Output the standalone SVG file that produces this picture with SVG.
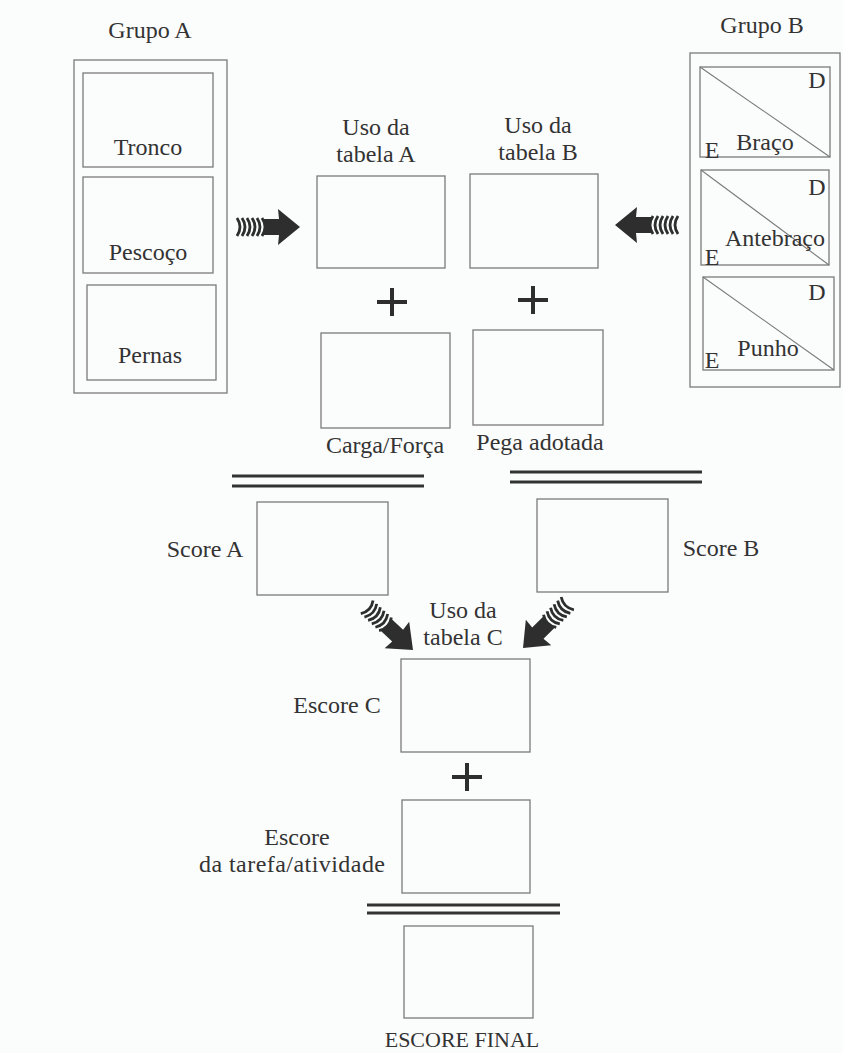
<svg xmlns="http://www.w3.org/2000/svg" xmlns:xlink="http://www.w3.org/1999/xlink" width="843" height="1053" viewBox="0 0 843 1053">
<style>
  text { font-family: 'Liberation Serif', 'DejaVu Serif', serif; }
  .t { font-size: 24px; fill: #333; text-anchor: middle; }
  .box { fill: none; stroke: #7a7a7a; stroke-width: 1.3; }
  .diag { stroke: #7a7a7a; stroke-width: 1.1; }
  .plus { stroke: #2e2e2e; stroke-width: 4; stroke-linecap: butt; }
  .dbl { stroke: #333; stroke-width: 3; }
  .stripe { fill: none; stroke: #2e2e2e; stroke-width: 2.8; }
</style>
<defs>
  <g id="stripedArrow">
    <polygon points="0,0 -22,-18 -21,-8 -36,-8 -36,8 -21,8 -22,18" fill="#2e2e2e"/>
    <path class="stripe" d="M-63,-9 q6,9 0,18"/>
    <path class="stripe" d="M-58,-9 q6,9 0,18"/>
    <path class="stripe" d="M-53,-9 q6,9 0,18"/>
    <path class="stripe" d="M-48,-9 q6,9 0,18"/>
    <path class="stripe" d="M-43,-9 q6,9 0,18"/>
    <path class="stripe" d="M-38,-9 q6,9 0,18"/>
  </g>
</defs>
<rect x="0" y="0" width="843" height="1053" fill="#fbfcfc"/>

<g font-family="Liberation Serif, serif">
<g id="grupo-a">
  <text class="t" x="150" y="38">Grupo A</text>
  <rect class="box" x="74" y="60" width="153" height="333"/>
  <rect class="box" x="83" y="73" width="130" height="94"/>
  <text class="t" x="148" y="155">Tronco</text>
  <rect class="box" x="83" y="177" width="130" height="96"/>
  <text class="t" x="148" y="260">Pescoço</text>
  <rect class="box" x="87" y="285" width="129" height="95"/>
  <text class="t" x="150" y="363">Pernas</text>
</g>

<g id="grupo-b">
  <text class="t" x="762" y="33">Grupo B</text>
  <rect class="box" x="690" y="53" width="150" height="334"/>
  <rect class="box" x="700" y="67" width="130" height="90"/>
  <line class="diag" x1="700" y1="67" x2="830" y2="157"/>
  <text class="t" x="817" y="88">D</text>
  <text class="t" x="712" y="158">E</text>
  <text class="t" x="765" y="150">Braço</text>
  <rect class="box" x="701" y="170" width="128" height="95"/>
  <line class="diag" x1="701" y1="170" x2="829" y2="265"/>
  <text class="t" x="817" y="195">D</text>
  <text class="t" x="712" y="265">E</text>
  <text class="t" x="775" y="246">Antebraço</text>
  <rect class="box" x="703" y="277" width="131" height="93"/>
  <line class="diag" x1="703" y1="277" x2="834" y2="370"/>
  <text class="t" x="817" y="300">D</text>
  <text class="t" x="712" y="368">E</text>
  <text class="t" x="768" y="356">Punho</text>
</g>

<g id="tabela-a">
  <text class="t" x="376" y="135">Uso da</text>
  <text class="t" x="376" y="162">tabela A</text>
  <rect class="box" x="317" y="176" width="128" height="92"/>
</g>
<g id="tabela-b">
  <text class="t" x="538" y="133">Uso da</text>
  <text class="t" x="538" y="160">tabela B</text>
  <rect class="box" x="470" y="174" width="128" height="94"/>
</g>

<g id="carga-forca">
  <rect class="box" x="321" y="333" width="129" height="95"/>
  <text class="t" x="385" y="453">Carga/Força</text>
</g>
<g id="pega-adotada">
  <rect class="box" x="473" y="330" width="130" height="95"/>
  <text class="t" x="540" y="450">Pega adotada</text>
</g>

<g id="score-a">
  <rect class="box" x="257" y="502" width="131" height="93"/>
  <text class="t" x="205" y="557">Score A</text>
</g>
<g id="score-b">
  <rect class="box" x="537" y="499" width="131" height="93"/>
  <text class="t" x="721" y="556">Score B</text>
</g>

<g id="tabela-c">
  <text class="t" x="463" y="618">Uso da</text>
  <text class="t" x="463" y="645">tabela C</text>
</g>

<g id="escore-c">
  <rect class="box" x="401" y="659" width="129" height="93"/>
  <text class="t" x="337" y="713">Escore C</text>
</g>

<g id="escore-tarefa">
  <rect class="box" x="402" y="800" width="128" height="93"/>
  <text class="t" x="297" y="845">Escore</text>
  <text class="t" x="292" y="872" textLength="186" lengthAdjust="spacing">da tarefa/atividade</text>
</g>

<g id="escore-final">
  <rect class="box" x="404" y="926" width="129" height="92"/>
  <text class="t" x="462" y="1047" style="font-size:22px">ESCORE FINAL</text>
</g>
</g>

<g id="connectors">
  <use xlink:href="#stripedArrow" href="#stripedArrow" transform="translate(300,227)"/>
  <use xlink:href="#stripedArrow" href="#stripedArrow" transform="translate(615,225) rotate(180)"/>
  <use xlink:href="#stripedArrow" href="#stripedArrow" transform="translate(413,650) rotate(43)"/>
  <use xlink:href="#stripedArrow" href="#stripedArrow" transform="translate(523,648) rotate(135)"/>
  <path class="plus" d="M377,302 h30 M392,288 v28"/>
  <path class="plus" d="M518,300 h30 M533,286 v28"/>
  <path class="plus" d="M452,777 h30 M467,763 v28"/>
  <path class="dbl" d="M232,476 H424 M232,486 H424"/>
  <path class="dbl" d="M510,472 H702 M510,482 H702"/>
  <path class="dbl" d="M367,905 H560 M367,913 H560"/>
</g>
</svg>
